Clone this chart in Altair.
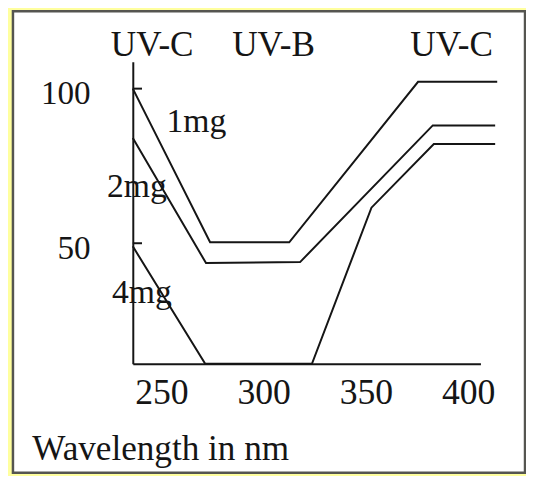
import altair as alt
import pandas as pd

# ---- data ----
wavelength_1mg = [236, 273.8, 312.5, 375.5, 414.2]
percent_1mg = [100, 50.3, 50.3, 102.2, 102.2]
wavelength_2mg = [236, 271.8, 317.8, 382.7, 413.2]
percent_2mg = [84.0, 43.6, 43.9, 88.1, 88.1]
wavelength_4mg = [236, 271.4, 323.6, 352.7, 383.2, 413.2]
percent_4mg = [49, 11, 11, 61.5, 82.1, 82.1]

x_ticks = [250, 300, 350, 400]
y_ticks = [50, 100]

series_labels = ["1mg", "2mg", "4mg"]
series_label_x = [252.5, 223.4, 225.8]
series_label_y = [85.9, 65.1, 30.8]

band_labels = ["UV-C", "UV-B", "UV-C"]
band_label_x = [245.5, 304.8, 391.9]
band_label_y = [110.6, 110.6, 110.6]

# ---- build tables ----
rows = []
for name, xs, ys in [("1mg", wavelength_1mg, percent_1mg),
                     ("2mg", wavelength_2mg, percent_2mg),
                     ("4mg", wavelength_4mg, percent_4mg)]:
    for i, (xv, yv) in enumerate(zip(xs, ys)):
        rows.append({"series": name, "idx": i, "x": xv, "y": yv})
lines_df = pd.DataFrame(rows)
series_df = pd.DataFrame({"label": series_labels, "x": series_label_x, "y": series_label_y})
band_df = pd.DataFrame({"label": band_labels, "x": band_label_x, "y": band_label_y})
ticks_df = pd.DataFrame({"y": y_ticks})

FONT = "Liberation Serif"
INK = "#151515"

x_scale = alt.Scale(domain=[236, 406], nice=False, zero=False)
y_scale = alt.Scale(domain=[11, 108.7], nice=False, zero=False)

x_axis = alt.Axis(values=x_ticks, title="Wavelength in nm", grid=False, ticks=False, tickSize=0,
                  domainColor=INK, domainWidth=2, labelFont=FONT, labelFontSize=36,
                  labelColor=INK, labelPadding=40, labelBaseline="alphabetic",
                  labelFlush=False, labelOverlap=False,
                  titleFont=FONT, titleFontSize=35.5, titleFontWeight="normal", titleColor=INK,
                  titleX=-102, titleY=97, titleAlign="left", titleBaseline="alphabetic",
                  zindex=1)
y_axis = alt.Axis(values=y_ticks, title="", grid=False, ticks=False, tickSize=0,
                  domainColor=INK, domainWidth=2, labelFont=FONT, labelFontSize=33.5,
                  labelColor=INK, labelPadding=43, labelBaseline="middle", labelOffset=5,
                  labelFlush=False, zindex=1)

frame = alt.Chart(pd.DataFrame({"k": [0]})).mark_rect(
    fill="white", stroke="#555550", strokeWidth=2.5
).encode(x=alt.value(-121), x2=alt.value(396), y=alt.value(-51), y2=alt.value(415))

lines = alt.Chart(lines_df).mark_line(color=INK, strokeWidth=2).encode(
    x=alt.X("x:Q", scale=x_scale, axis=x_axis),
    y=alt.Y("y:Q", scale=y_scale, axis=y_axis),
    detail="series:N",
    order="idx:Q",
)

tick_marks = alt.Chart(ticks_df).mark_rule(color=INK, strokeWidth=2).encode(
    y="y:Q", x=alt.datum(236), x2=alt.datum(240.5)
)

series_text = alt.Chart(series_df).mark_text(
    align="left", baseline="alphabetic", font=FONT, fontSize=34, color=INK
).encode(x="x:Q", y="y:Q", text="label:N")

band_text = alt.Chart(band_df).mark_text(
    align="center", baseline="alphabetic", font=FONT, fontSize=35.5, color=INK
).encode(x="x:Q", y="y:Q", text="label:N")

chart = alt.layer(frame, lines, tick_marks, series_text, band_text).properties(
    width=351, height=305,
    padding={"left": 126, "top": 52, "right": 46, "bottom": 111},
    autosize=alt.AutoSizeParams(type="none"),
    background="#FFFF9E",
).configure_view(stroke="transparent")

chart.save("out.html", embed_options={"renderer": "svg", "actions": False})
